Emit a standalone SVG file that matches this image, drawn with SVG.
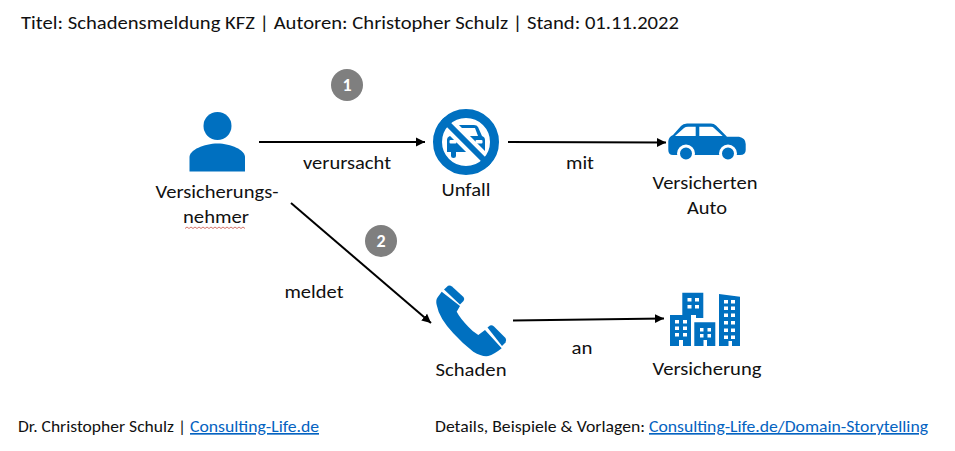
<svg xmlns="http://www.w3.org/2000/svg" width="955" height="451" viewBox="0 0 955 451">
<style>
text{font-family:Carlito,Lato,"Open Sans",sans-serif;font-size:18px;fill:#111}
.m{text-anchor:middle}
.i{fill:#0070c0}
.w{fill:#fff}
.c{stroke:#000;stroke-width:2;fill:none;marker-end:url(#a)}
.b{fill:#7f7f7f}
.n{fill:#fff;font-weight:700;font-size:18px;text-anchor:middle}
.l{fill:#0563c1;text-decoration:underline;font-size:16.5px}
.f{font-size:16.5px}
</style>
<defs><marker id="a" markerUnits="userSpaceOnUse" markerWidth="10" markerHeight="10" refX="9" refY="5" orient="auto"><path d="M0 0.5L9 5L0 9.5Z" fill="#000"/></marker></defs>
<rect width="955" height="451" fill="#fff"/>
<text id="title" x="21" y="29" textLength="658" lengthAdjust="spacingAndGlyphs" style="font-size:19px">Titel: Schadensmeldung KFZ | Autoren: Christopher Schulz | Stand: 01.11.2022</text>
<g id="connectors">
<path class="c" d="M259 142H425"/>
<path class="c" d="M508 142L666 142.500"/>
<path class="c" d="M291 203L431 323"/>
<path class="c" d="M513 320.500L664 318.500"/>
</g>
<g id="edge-labels">
<text class="m" x="347" y="169" textLength="88" lengthAdjust="spacingAndGlyphs">verursacht</text>
<text class="m" x="580" y="169" textLength="28" lengthAdjust="spacingAndGlyphs">mit</text>
<text class="m" x="314" y="298" textLength="59" lengthAdjust="spacingAndGlyphs">meldet</text>
<text class="m" x="582" y="354" textLength="21" lengthAdjust="spacingAndGlyphs">an</text>
</g>
<g id="badge-1"><circle class="b" cx="347" cy="85" r="16"/><text class="n" x="347" y="91">1</text></g>
<g id="badge-2"><circle class="b" cx="381" cy="241" r="16"/><text class="n" x="381" y="247">2</text></g>
<g id="node-versicherungsnehmer">
<circle class="i" cx="217.500" cy="126" r="14"/>
<path class="i" d="M189.500 171.500V157C189.500 150 204 143.500 217.500 143.500S245 150 245 157V171.500Z"/>
<text class="m" x="217" y="198" textLength="123" lengthAdjust="spacingAndGlyphs">Versicherungs-</text>
<text class="m" x="216" y="223" textLength="66" lengthAdjust="spacingAndGlyphs">nehmer</text>
<path d="M185 228.500l2-1.500 2 1.500 2-1.500 2 1.500 2-1.500 2 1.500 2-1.500 2 1.500 2-1.500 2 1.500 2-1.500 2 1.500 2-1.500 2 1.500 2-1.500 2 1.500 2-1.500 2 1.500 2-1.500 2 1.500 2-1.500 2 1.500 2-1.500 2 1.500 2-1.500 2 1.500 2-1.500 2 1.500 2-1.500 2 1.500" fill="none" stroke="#c0392b" stroke-width=".7"/>
</g>
<g id="node-unfall">
<path class="i" d="M450 136L454 127Q455 125 458 125H474Q477 125 478 127L482 136Q485 137 485 140V152H481V156Q481 158 478.500 158Q476 158 476 156V152H456V156Q456 158 453.500 158Q451 158 451 156V152H447V140Q447 137 450 136Z"/>
<path class="w" d="M454 136L457 128H475L478 136Z"/>
<rect class="w" x="449.500" y="140" width="7" height="3.500" rx="1"/><rect class="w" x="475.500" y="140" width="7" height="3.500" rx="1"/>
<path d="M443 119L489 165" stroke="#fff" stroke-width="14"/>
<path d="M443 119L489 165" stroke="#0070c0" stroke-width="6"/>
<circle cx="466" cy="142" r="28.500" fill="none" stroke="#0070c0" stroke-width="9"/>
<text class="m" x="466" y="196" textLength="49" lengthAdjust="spacingAndGlyphs">Unfall</text>
</g>
<g id="node-auto">
<path class="i" d="M668.300 141Q669 136.500 673 135L681 126Q683 123.500 687 123.500H711Q714 123.500 716 125.500L727 136.700H739Q745.700 138 745.700 144V150Q745.700 155 740 155H673Q668.300 155 668.300 150Z"/>
<path class="w" d="M675 136L684 128Q685.500 126.700 688 126.700H695.700V136Z"/>
<path class="w" d="M699.300 126.700H711Q713 126.700 714 128L722.700 136H699.300Z"/>
<circle class="i" cx="686" cy="153.500" r="7.500" stroke="#fff" stroke-width="3"/>
<circle class="i" cx="728" cy="153.500" r="7.500" stroke="#fff" stroke-width="3"/>
<text class="m" x="705" y="189" textLength="105" lengthAdjust="spacingAndGlyphs">Versicherten</text>
<text class="m" x="707" y="214" textLength="40" lengthAdjust="spacingAndGlyphs">Auto</text>
</g>
<g id="node-schaden">
<path class="i" d="M441.700 291.700L437.500 297.500Q435.500 300 436.700 305Q439 318 453.300 333.300Q463 344 473.300 351.700Q482 357 488.300 356Q494 354.500 501.700 348.300L485 330L478.300 335Q473 332 468.300 326.700Q460 318 456.700 311.700L460 306Z"/>
<path class="i" d="M444 289.500L448 285.800Q450 284.800 452 286.500L463.500 297Q465 299 463.500 301L460 304.500Z"/>
<path class="i" d="M487.500 327.500L490 325.500Q492 324.800 494 326.500L505.500 338Q507 340.500 505.500 342.500L502 346Z"/>
<text class="m" x="471" y="376" textLength="71" lengthAdjust="spacingAndGlyphs">Schaden</text>
</g>
<g id="node-versicherung">
<path class="i" d="M682.300 292.700H703.300V318H696V315H682.300Z"/>
<path class="i" d="M670 315H691V346H683V340H679V346H670Z"/>
<path class="i" d="M694.300 322.300H715.300V346H707V340H703.500V346H694.300Z"/>
<path class="i" d="M719 294L740 296.700V346H732V341H728.500V346H719Z"/>
<g class="w">
<rect x="687.500" y="298" width="4" height="3.500"/><rect x="695" y="298" width="4" height="3.500"/><rect x="687.500" y="305" width="4" height="3.500"/><rect x="695" y="305" width="4" height="3.500"/>
<rect x="675" y="320" width="4" height="3.500"/><rect x="683" y="320" width="4" height="3.500"/><rect x="675" y="326.500" width="4" height="3.500"/><rect x="683" y="326.500" width="4" height="3.500"/><rect x="675" y="333" width="4" height="3.500"/><rect x="683" y="333" width="4" height="3.500"/>
<rect x="700" y="328" width="3.500" height="3.500"/><rect x="707.500" y="328" width="3.500" height="3.500"/><rect x="700" y="334" width="3.500" height="3.500"/><rect x="707.500" y="334" width="3.500" height="3.500"/>
<rect x="724" y="300" width="4" height="3.500"/><rect x="731" y="300" width="4" height="3.500"/><rect x="724" y="306.500" width="4" height="3.500"/><rect x="731" y="306.500" width="4" height="3.500"/><rect x="724" y="313.500" width="4" height="3.500"/><rect x="731" y="313.500" width="4" height="3.500"/><rect x="724" y="321" width="4" height="3.500"/><rect x="731" y="321" width="4" height="3.500"/><rect x="724" y="328.500" width="4" height="3.500"/><rect x="731" y="328.500" width="4" height="3.500"/><rect x="724" y="335.500" width="4" height="3.500"/><rect x="731" y="335.500" width="4" height="3.500"/>
</g>
<text class="m" x="707" y="375" textLength="109" lengthAdjust="spacingAndGlyphs">Versicherung</text>
</g>
<g id="footer">
<text class="f" x="18" y="432" textLength="168" lengthAdjust="spacingAndGlyphs">Dr. Christopher Schulz |</text>
<text class="l" x="190" y="432" textLength="129" lengthAdjust="spacingAndGlyphs">Consulting-Life.de</text>
<text class="f" x="435" y="432" textLength="210" lengthAdjust="spacingAndGlyphs">Details, Beispiele &amp; Vorlagen:</text>
<text class="l" x="649" y="432" textLength="279" lengthAdjust="spacingAndGlyphs">Consulting-Life.de/Domain-Storytelling</text>
</g>
</svg>
